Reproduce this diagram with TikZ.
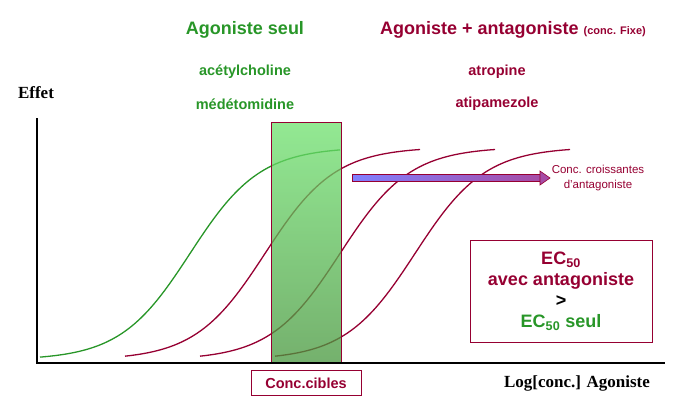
\documentclass[tikz,border=0pt]{standalone}
\usepackage{fontspec}
\setmainfont{Liberation Serif}
\newfontfamily\ar{Liberation Sans}
\definecolor{gr}{RGB}{40,150,40}
\definecolor{rd}{RGB}{150,0,50}
\definecolor{gtop}{RGB}{110,225,110}
\definecolor{gbot}{RGB}{70,150,60}
\begin{document}
\begin{tikzpicture}[x=1pt,y=-1pt,
  gt/.style={font=\ar\bfseries\fontsize{18}{20}\selectfont,text=gr},
  rt/.style={font=\ar\bfseries\fontsize{18}{20}\selectfont,text=rd},
  crv/.style={line width=1.3pt,smooth,samples=80}]
\useasboundingbox (0,0) rectangle (679,402);
% curves
\draw[crv,gr] plot[domain=40:340] (\x,{360-213/(1+exp(-(\x-190)/35))});
\foreach \m/\s in {265/125,340/200,415/275}
  \draw[crv,rd] plot[domain=\s:\m+155] (\x,{360-213/(1+exp(-(\x-\m)/35))});
% target box
\node[draw=rd,line width=1pt,minimum width=70pt,minimum height=241pt,inner sep=0,
  top color=gtop,bottom color=gbot,fill opacity=0.75,anchor=north west] (box) at (271,122) {};
% axes
\coordinate (o) at (37,363);
\coordinate (yt) at (37,118);
\coordinate (xt) at (665,363);
\draw[line width=1.5pt] (yt) -- (o) -- (xt);
% arrow
\draw[draw=rd,line width=0.6pt,left color=blue!50!white,right color=violet!70!white]
  (352,174.5) rectangle (540,181.5);
\fill[violet!70!white,draw=rd,line width=0.6pt] (540,171)--(550,178)--(540,185)--cycle;
% texts
\node[gt] (t1) at (245,30) {Agoniste seul};
\node[gt,font=\ar\bfseries\fontsize{14.5}{16}\selectfont] (t2) at (245,72) {acétylcholine};
\node[gt,font=\ar\bfseries\fontsize{14.5}{16}\selectfont] (t3) at (245,104) {médétomidine};
\node[rt] (t4) at (513,30) {Agoniste + antagoniste {\fontsize{11}{12}\selectfont(conc. Fixe)}};
\node[rt,font=\ar\bfseries\fontsize{14.5}{16}\selectfont] (t5) at (497,72) {atropine};
\node[rt,font=\ar\bfseries\fontsize{14.5}{16}\selectfont] (t6) at (497,104) {atipamezole};
\node[font=\bfseries\fontsize{17}{19}\selectfont] (ef) at (36,93) {Effet};
\node[font=\bfseries\fontsize{17}{19}\selectfont] (lg) at (577,383) {Log[conc.] Agoniste};
\node[draw=rd,line width=1pt,font=\ar\bfseries\fontsize{14.5}{16}\selectfont,text=rd,
  minimum width=110pt,minimum height=25pt] (cc) at (306,383) {Conc.cibles};
\node[font=\ar\fontsize{11.5}{15}\selectfont,text=rd,align=center] (cr) at (598,178) {Conc. croissantes\\d’antagoniste};
\node[draw=rd,line width=1pt,minimum width=182pt,minimum height=102pt,align=center,
  font=\ar\bfseries\fontsize{18}{21}\selectfont] (ec) at (561,291)
  {\textcolor{rd}{EC\textsubscript{50}}\\\textcolor{rd}{avec antagoniste}\\ >\\\textcolor{gr}{EC\textsubscript{50} seul}};
\end{tikzpicture}
\end{document}
